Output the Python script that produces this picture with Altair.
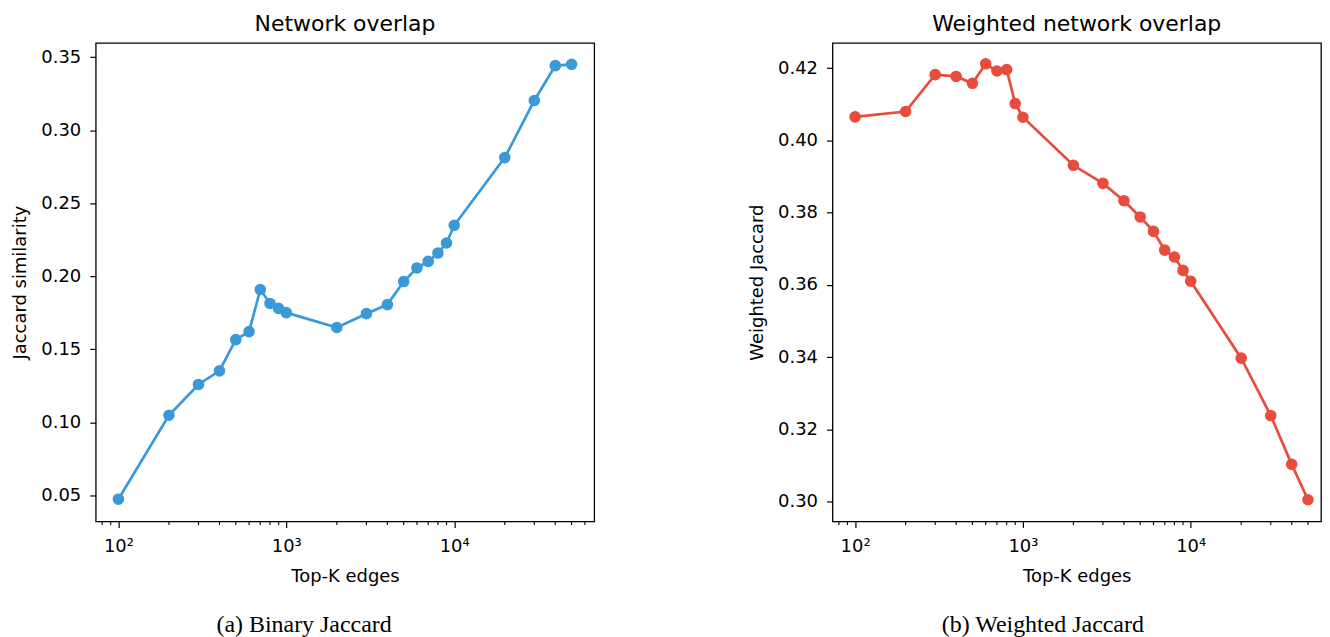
import altair as alt
import pandas as pd

# ---- data ----
top_k = [100, 200, 300, 400, 500, 600, 700, 800, 900, 1000,
         2000, 3000, 4000, 5000, 6000, 7000, 8000, 9000, 10000,
         20000, 30000, 40000, 50000]
binary_jaccard = [0.0473, 0.1048, 0.1259, 0.1352, 0.1566, 0.1621, 0.1909, 0.1814, 0.1780, 0.1751,
                  0.1649, 0.1744, 0.1806, 0.1964, 0.2057, 0.2102, 0.2159, 0.2228, 0.2349,
                  0.2813, 0.3204, 0.3443, 0.3452]
weighted_jaccard = [0.4065, 0.4080, 0.4182, 0.4177, 0.4158, 0.4212, 0.4192, 0.4196, 0.4102, 0.4064,
                    0.3931, 0.3881, 0.3833, 0.3788, 0.3748, 0.3696, 0.3677, 0.3640, 0.3610,
                    0.3397, 0.3238, 0.3103, 0.3005]

major_ticks = [100, 1000, 10000]
minor_ticks = [80, 90, 200, 300, 400, 500, 600, 700, 800, 900,
               2000, 3000, 4000, 5000, 6000, 7000, 8000, 9000,
               20000, 30000, 40000, 50000, 60000]
left_yticks = [0.05, 0.10, 0.15, 0.20, 0.25, 0.30, 0.35]
right_yticks = [0.30, 0.32, 0.34, 0.36, 0.38, 0.40, 0.42]

BLUE = "#3a9ad9"
RED = "#e74c3c"
PH = 480

label_expr = ("datum.value < 150 ? '10\u00b2' : datum.value < 1500 ? '10\u00b3' : "
              "datum.value < 15000 ? '10\u2074' : ''")


def panel(values, color, title, ytitle, ydomain, yticks, xdomain, width, caption, cap_x):
    df = pd.DataFrame({"k": top_k, "v": values})
    minor_df = pd.DataFrame({"k": [m for m in minor_ticks if xdomain[0] <= m <= xdomain[1]]})
    xscale = alt.Scale(type="log", domain=xdomain, nice=False)
    yscale = alt.Scale(domain=ydomain, nice=False, zero=False)
    xaxis = alt.Axis(title="Top-K edges", values=major_ticks, labelExpr=label_expr,
                     labelFlush=False)
    x = alt.X("k:Q", scale=xscale, axis=xaxis)
    y = alt.Y("v:Q", scale=yscale,
              axis=alt.Axis(title=ytitle, values=yticks, format=".2f"))
    base = alt.Chart(df).encode(x=x, y=y)
    line = base.mark_line(color=color, strokeWidth=2.7)
    pts = base.mark_circle(color=color, size=135, opacity=1)
    minor = alt.Chart(minor_df).mark_rule(color="black", strokeWidth=1.1).encode(
        x=alt.X("k:Q", scale=xscale, axis=xaxis),
        y=alt.value(PH), y2=alt.value(PH + 3.6))
    cap = alt.Chart(pd.DataFrame({"t": [caption]})).mark_text(
        font="Liberation Serif", fontSize=24, align="center", baseline="alphabetic",
        color="black").encode(x=alt.value(cap_x), y=alt.value(591), text="t:N")
    return alt.layer(line, pts, minor, cap).properties(
        width=width, height=PH,
        title=alt.TitleParams(title, fontSize=22, font="DejaVu Sans", fontWeight="normal",
                              color="black", offset=7))


left = panel(binary_jaccard, BLUE, "Network overlap", "Jaccard similarity",
             [0.0321, 0.3599], left_yticks, [73.3, 68200], 500, "(a) Binary Jaccard", 209)
right = panel(weighted_jaccard, RED, "Weighted network overlap", "Weighted Jaccard",
              [0.2945, 0.4270], right_yticks, [73.3, 59800], 490, "(b) Weighted Jaccard", 211)

chart = alt.hconcat(left, right, spacing=153).properties(
    padding={"left": 3, "top": 3, "right": 0, "bottom": 0}
).configure_view(stroke="black", strokeWidth=1.3).configure_axis(
    domain=False, grid=False, labelFont="DejaVu Sans", titleFont="DejaVu Sans",
    labelFontSize=18, titleFontSize=18, titleFontWeight="normal",
    labelColor="black", titleColor="black", tickColor="black", tickSize=6, tickWidth=1.2,
    labelPadding=9, titlePadding=11
).configure_axisX(labelPadding=10, titlePadding=12)

chart.save("out.html", embed_options={"renderer": "svg", "actions": False})
